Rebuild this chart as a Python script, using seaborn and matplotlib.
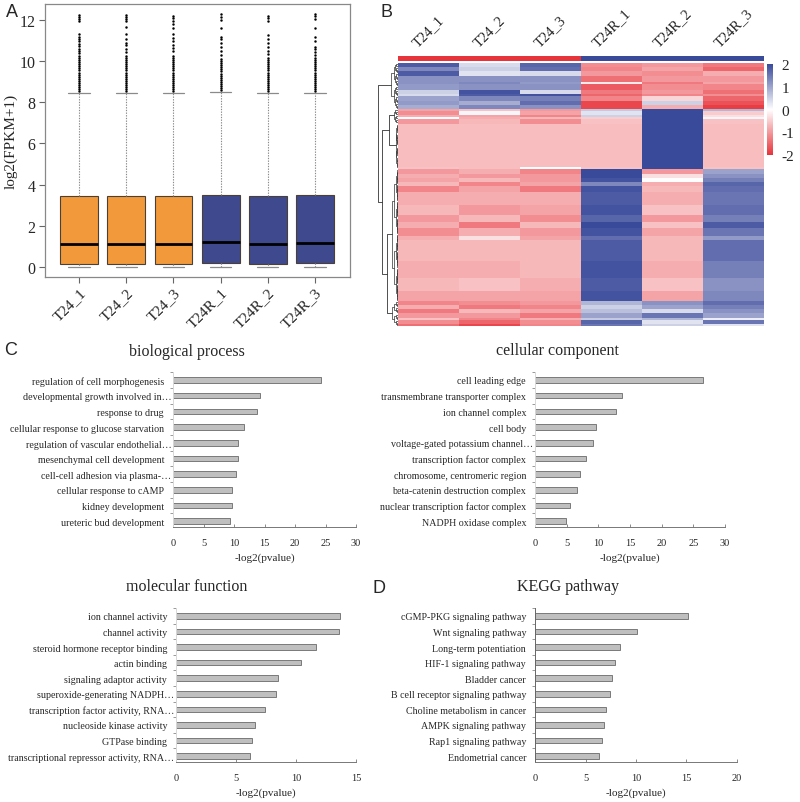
import numpy as np
import pandas as pd
import matplotlib
matplotlib.use("Agg")
import matplotlib.pyplot as plt
import seaborn as sns
from matplotlib.colors import LinearSegmentedColormap, ListedColormap

# ---------------- data ----------------
samples = ["T24_1", "T24_2", "T24_3", "T24R_1", "T24R_2", "T24R_3"]
box_q1 = [0.15, 0.15, 0.15, 0.20, 0.12, 0.18]
box_med = [1.10, 1.10, 1.10, 1.20, 1.10, 1.18]
box_q3 = [3.45, 3.45, 3.45, 3.50, 3.45, 3.48]
box_lo = [0.0, 0.0, 0.0, 0.0, 0.0, 0.0]
box_hi = [8.45, 8.45, 8.45, 8.50, 8.45, 8.47]
fliers_T24_1 = [8.55, 8.65, 8.75, 8.85, 8.95, 9.05, 9.15, 9.25, 9.35, 9.45, 9.55, 9.65, 9.75, 9.85, 9.95,
                10.05, 10.15, 10.25, 10.4, 10.5, 10.6, 10.75, 10.85, 11.0, 11.1, 11.2, 11.3, 11.95, 12.05, 12.15, 12.25]
fliers_T24_2 = [8.55, 8.65, 8.75, 8.85, 8.95, 9.05, 9.15, 9.25, 9.35, 9.45, 9.55, 9.65, 9.75, 9.85, 9.95,
                10.05, 10.15, 10.25, 10.45, 10.6, 10.8, 10.9, 11.1, 11.3, 11.65, 11.95, 12.05, 12.15, 12.25]
fliers_T24_3 = [8.55, 8.65, 8.75, 8.85, 8.95, 9.05, 9.15, 9.25, 9.35, 9.45, 9.55, 9.65, 9.75, 9.85, 9.95,
                10.05, 10.15, 10.25, 10.5, 10.65, 10.8, 11.0, 11.15, 11.3, 11.6, 11.8, 11.95, 12.1, 12.2]
fliers_T24R_1 = [8.6, 8.7, 8.8, 8.9, 9.0, 9.1, 9.2, 9.3, 9.4, 9.5, 9.6, 9.7, 9.8, 9.9, 10.0, 10.1,
                 10.3, 10.5, 10.7, 10.9, 11.1, 11.2, 11.6, 12.0, 12.15, 12.3]
fliers_T24R_2 = [8.55, 8.65, 8.75, 8.85, 8.95, 9.05, 9.15, 9.25, 9.35, 9.45, 9.55, 9.65, 9.75, 9.85, 9.95,
                 10.05, 10.15, 10.35, 10.5, 10.7, 10.9, 11.1, 11.25, 11.95, 12.1, 12.2]
fliers_T24R_3 = [8.55, 8.65, 8.75, 8.85, 8.95, 9.05, 9.15, 9.25, 9.35, 9.45, 9.55, 9.65, 9.75, 9.85, 9.95,
                 10.05, 10.15, 10.3, 10.45, 10.6, 10.7, 11.0, 11.2, 11.6, 12.05, 12.2, 12.3]
box_fliers = [fliers_T24_1, fliers_T24_2, fliers_T24_3, fliers_T24R_1, fliers_T24R_2, fliers_T24R_3]
box_colors = ["#F29A3B", "#F29A3B", "#F29A3B", "#3F4A8E", "#3F4A8E", "#3F4A8E"]

# heatmap row profiles (T24_1, T24_2, T24_3, T24R_1, T24R_2, T24R_3) and repeat counts
heat_profiles = [
    [1.8, 0.4, 1.7, -1.1, -1.0, -1.3], [1.3, 0.5, 1.6, -1.2, -0.9, -1.5], [1.8, 0.3, 0.4, -1.0, -1.1, -0.8],
    [1.2, 1.2, 1.2, -1.4, -1.0, -1.0], [1.2, 1.3, 1.1, -0.2, -1.3, -0.9], [1.1, 1.2, 1.2, -1.6, -1.1, -1.2],
    [0.5, 1.9, 0.4, -1.3, -1.0, -1.4], [0.4, 1.8, 1.9, -1.5, -1.2, -1.1], [1.0, 1.3, 1.4, -1.2, -0.4, -1.5],
    [1.1, 0.9, 1.6, -1.8, 0.5, -1.7], [0.9, 1.3, 1.2, -1.8, -0.8, -1.9],
    [-0.9, -0.6, -1.0, 0.6, 2.0, 0.8], [-1.1, 0.1, -0.9, 0.3, 2.0, -0.5], [-0.8, -0.9, -1.2, 0.5, 2.0, -0.3],
    [0.0, -0.8, -0.7, -0.5, 2.0, 0.1], [-1.0, -0.7, -1.1, -0.6, 2.0, -0.6],
    [-0.65, -0.65, -0.65, -0.65, 2.0, -0.65], [-0.6, -0.65, 0.0, -0.6, 2.0, -0.6],
    [-1.0, -0.8, -1.2, 2.0, -1.0, 1.0], [-0.8, -1.0, -1.0, 2.0, -0.3, 1.2], [-0.9, -0.7, -1.0, 1.9, 0.0, 1.4],
    [-0.7, -1.2, -0.9, 1.3, -0.8, 1.7], [-1.2, -0.9, -1.3, 1.9, -0.7, 1.6], [-0.8, -0.8, -0.8, 1.8, -0.8, 1.5],
    [-0.7, -1.0, -0.9, 1.9, -0.6, 1.6], [-1.0, -0.7, -1.1, 1.7, -1.0, 1.4], [-0.8, -1.3, -0.7, 2.0, -0.6, 1.8],
    [-1.1, -0.8, -1.0, 1.9, -0.9, 1.5], [-0.8, -0.3, -0.9, 1.6, -0.7, 1.1], [-0.7, -0.7, -0.7, 1.8, -0.7, 1.6],
    [-0.8, -0.8, -0.7, 1.9, -0.8, 1.4], [-0.7, -0.6, -0.8, 1.8, -0.6, 1.2], [-0.9, -0.9, -0.9, 1.9, -0.9, 1.3],
    [-1.2, -1.1, -1.0, 0.8, 1.2, 1.6], [-0.8, -1.3, -1.2, 0.5, 1.0, 1.4], [-1.3, -0.7, -0.9, 0.7, 0.4, 1.2],
    [-1.0, -1.0, -1.3, 1.0, 1.5, 1.0], [-0.6, -1.2, -0.8, 0.6, 0.8, 0.2], [-1.1, -1.5, -1.1, 1.7, 0.3, 1.5],
    [-1.4, -1.8, -1.2, 1.5, 0.5, 0.3],
]
heat_counts = [2, 2, 2, 3, 1, 3, 2, 1, 2, 2, 2,
               1, 2, 1, 1, 2,
               21, 1,
               2, 2, 2, 2, 3, 6, 5, 3, 3, 4, 2, 10, 8, 6, 5,
               2, 2, 2, 2, 1, 2, 1]
heat_block_sizes = [22, 7, 22, 63, 12]
sample_groups = [0, 0, 0, 1, 1, 1]

bp_terms = ["regulation of cell morphogenesis", "developmental growth involved in…", "response to drug",
            "cellular response to glucose starvation", "regulation of vascular endothelial…",
            "mesenchymal cell development", "cell-cell adhesion via plasma-…", "cellular response to cAMP",
            "kidney development", "ureteric bud development"]
bp_vals = [24.3, 14.2, 13.7, 11.6, 10.7, 10.6, 10.3, 9.6, 9.7, 9.4]

cc_terms = ["cell leading edge", "transmembrane transporter complex", "ion channel complex", "cell body",
            "voltage-gated potassium channel…", "transcription factor complex", "chromosome, centromeric region",
            "beta-catenin destruction complex", "nuclear transcription factor complex", "NADPH oxidase complex"]
cc_vals = [26.6, 13.7, 12.8, 9.7, 9.2, 8.0, 7.1, 6.7, 5.5, 4.9]

mf_terms = ["ion channel activity", "channel activity", "steroid hormone receptor binding", "actin binding",
            "signaling adaptor activity", "superoxide-generating NADPH…", "transcription factor activity, RNA…",
            "nucleoside kinase activity", "GTPase binding", "transcriptional repressor activity, RNA…"]
mf_vals = [13.7, 13.6, 11.7, 10.4, 8.5, 8.3, 7.4, 6.6, 6.3, 6.2]

kegg_terms = ["cGMP-PKG signaling pathway", "Wnt signaling pathway", "Long-term potentiation",
              "HIF-1 signaling pathway", "Bladder cancer", "B cell receptor signaling pathway",
              "Choline metabolism in cancer", "AMPK signaling pathway", "Rap1 signaling pathway",
              "Endometrial cancer"]
kegg_vals = [15.1, 10.1, 8.4, 7.9, 7.6, 7.4, 7.0, 6.8, 6.6, 6.3]

# ---------------- figure ----------------
sns.set_theme(style="white")
plt.rcParams["font.family"] = ["Liberation Serif", "DejaVu Serif"]
W, H = 800, 803
fig = plt.figure(figsize=(W / 100, H / 100), dpi=100)


def rect(l, t, r, b):
    return [l / W, 1 - b / H, (r - l) / W, (b - t) / H]


def ftext(x, y, s, **kw):
    fig.text(x / W, 1 - y / H, s, **kw)


# ---------- Panel A: boxplots ----------
axA = fig.add_axes(rect(45, 5, 350, 278))
stats = []
for i, s in enumerate(samples):
    stats.append(dict(label=s, q1=box_q1[i], med=box_med[i], q3=box_q3[i],
                      whislo=box_lo[i], whishi=box_hi[i], fliers=box_fliers[i]))
bp = axA.bxp(stats, positions=list(range(len(samples))), widths=0.8, patch_artist=True,
             capwidths=0.45,
             boxprops=dict(edgecolor="#4a4036", linewidth=0.8),
             medianprops=dict(color="black", linewidth=2.0),
             whiskerprops=dict(color="#8a8a8a", linestyle=(0, (1.2, 1.2)), linewidth=0.8),
             capprops=dict(color="#8a8a8a", linewidth=0.9),
             flierprops=dict(marker="o", markersize=1.4, markerfacecolor="black",
                             markeredgecolor="black", markeredgewidth=0.3))
for patch, c in zip(bp["boxes"], box_colors):
    patch.set_facecolor(c)
axA.set_xlim(-0.72, 5.74)
axA.set_ylim(-0.49, 12.78)
axA.set_yticks([0, 2, 4, 6, 8, 10, 12])
axA.set_xticks(range(len(samples)))
axA.set_xticklabels(samples, rotation=45, ha="right", rotation_mode="anchor", fontsize=11)
axA.tick_params(axis="y", labelsize=11.5, length=4, width=0.8, color="#666666", left=True, pad=3)
axA.tick_params(axis="x", length=4, width=0.8, color="#666666", bottom=True, pad=2)
axA.set_ylabel("log2(FPKM+1)", fontsize=11, labelpad=1)
for sp in axA.spines.values():
    sp.set_color("#888888")
    sp.set_linewidth(0.9)
axA.grid(False)

# ---------- Panel B: heatmap ----------
rows = []
for prof, n in zip(heat_profiles, heat_counts):
    rows += [prof] * n
mat = np.array(rows)
heat_df = pd.DataFrame(mat, columns=samples)

cmap = LinearSegmentedColormap.from_list(
    "rwb", [(0.0, "#E7333A"), (0.5, "#FFFFFF"), (1.0, "#3A4A9A")])
axH = fig.add_axes(rect(398, 64, 764, 327))
cax = fig.add_axes(rect(767, 65, 773, 156))
sns.heatmap(heat_df, ax=axH, cmap=cmap, vmin=-2, vmax=2, cbar_ax=cax,
            xticklabels=False, yticklabels=False)
axH.set_xlabel("")
axH.set_ylabel("")
cbar = axH.collections[0].colorbar
cbar.outline.set_visible(False)
cbar.set_ticks([2, 1, 0, -1, -2])
cbar.set_ticklabels(["2", "1", "0", "-1", "-2"])
cax.tick_params(labelsize=11, length=0, pad=6)

axG = fig.add_axes(rect(398, 57, 764, 62))
sns.heatmap(pd.DataFrame([sample_groups], columns=samples), ax=axG,
            cmap=ListedColormap(["#E7333A", "#3A4A9A"]), vmin=0, vmax=1, cbar=False,
            xticklabels=samples, yticklabels=False)
axG.xaxis.tick_top()
axG.set_xlabel("")
axG.tick_params(axis="x", length=0, pad=5, labelsize=10.5)
plt.setp(axG.get_xticklabels(), rotation=45, ha="center", va="bottom")

# dendrogram built from the row-block structure
axD = fig.add_axes(rect(377, 64, 398, 327))
nrows = mat.shape[0]
dcol = "#333333"


def subtree(lo, hi, h):
    if hi - lo == 1:
        return lo + 0.5, 0.0
    mid = (lo + hi) // 2
    ya, ha = subtree(lo, mid, h * 0.62)
    yb, hb = subtree(mid, hi, h * 0.62)
    axD.plot([ha, h, h, hb], [ya, ya, yb, yb], color=dcol, lw=0.5)
    return (ya + yb) / 2, h


def join(a, b, h):
    (ya, ha), (yb, hb) = a, b
    axD.plot([ha, h, h, hb], [ya, ya, yb, yb], color=dcol, lw=0.6)
    return (ya + yb) / 2, h


starts = np.cumsum([0] + heat_block_sizes)
blk = [subtree(starts[i], starts[i + 1], [0.32, 0.2, 0.12, 0.3, 0.28][i]) for i in range(5)]
n23 = join(blk[1], blk[2], 0.45)
n45 = join(blk[3], blk[4], 0.55)
nrest = join(n23, n45, 0.8)
join(blk[0], nrest, 1.0)
axD.set_xlim(1.03, 0)
axD.set_ylim(nrows, 0)
axD.axis("off")

# ---------- Panels C / D: enrichment bars ----------


def bar_panel(box, terms, vals, xmax, xticks, title, title_xy, spine_col):
    ax = fig.add_axes(rect(*box))
    df = pd.DataFrame({"term": terms, "val": vals})
    sns.barplot(data=df, x="val", y="term", orient="h", color="#BFBFBF", saturation=1,
                edgecolor="#6a6a6a", linewidth=0.6, width=0.36, ax=ax)
    ax.set_xlim(0, xmax)
    ax.set_ylim(9.38, -0.51)
    ax.set_xticks(xticks)
    ax.set_xticklabels([str(t) for t in xticks])
    ax.set_yticks(range(len(terms)))
    ax.set_yticklabels([t if t.endswith("…") else t + "   " for t in terms])
    ax.set_xlabel("-log2(pvalue)", fontsize=8, labelpad=4)
    ax.set_ylabel("")
    ax.tick_params(axis="x", direction="in", length=2.5, width=0.6, color="#777777",
                   labelsize=7.5, pad=8, bottom=True)
    ax.tick_params(axis="y", length=0, labelsize=7.2, pad=1)
    ax.set_yticks(np.arange(len(terms)) - 0.5, minor=True)
    ax.tick_params(axis="y", which="minor", length=2, width=0.6, color="#888888", left=True)
    for s in ["top", "right"]:
        ax.spines[s].set_visible(False)
    ax.spines["bottom"].set_color("#777777")
    ax.spines["bottom"].set_linewidth(0.7)
    ax.spines["left"].set_color(spine_col)
    ax.spines["left"].set_linewidth(0.7)
    ax.grid(False)
    ftext(title_xy[0], title_xy[1], title, ha="center", va="center", fontsize=11.5)
    return ax


bar_panel((173, 373, 356, 528), bp_terms, bp_vals, 30, [0, 5, 10, 15, 20, 25, 30],
          "biological process", (187, 352), "#d8d8d8")
bar_panel((535, 373, 725, 528), cc_terms, cc_vals, 30, [0, 5, 10, 15, 20, 25, 30],
          "cellular component", (557, 351), "#d8d8d8")
bar_panel((176, 609, 356, 763), mf_terms, mf_vals, 15, [0, 5, 10, 15],
          "molecular function", (187, 587), "#d8d8d8")
bar_panel((535, 609, 737, 763), kegg_terms, kegg_vals, 20, [0, 5, 10, 15, 20],
          "KEGG pathway", (568, 587), "#666666")

# panel letters
for lab, x, y in [("A", 6, 4), ("B", 381, 4), ("C", 4, 342), ("D", 373, 580)]:
    ftext(x, y, lab, ha="left", va="top", fontsize=13, family=["Liberation Sans", "DejaVu Sans"])

fig.savefig("out.png", dpi=100)
